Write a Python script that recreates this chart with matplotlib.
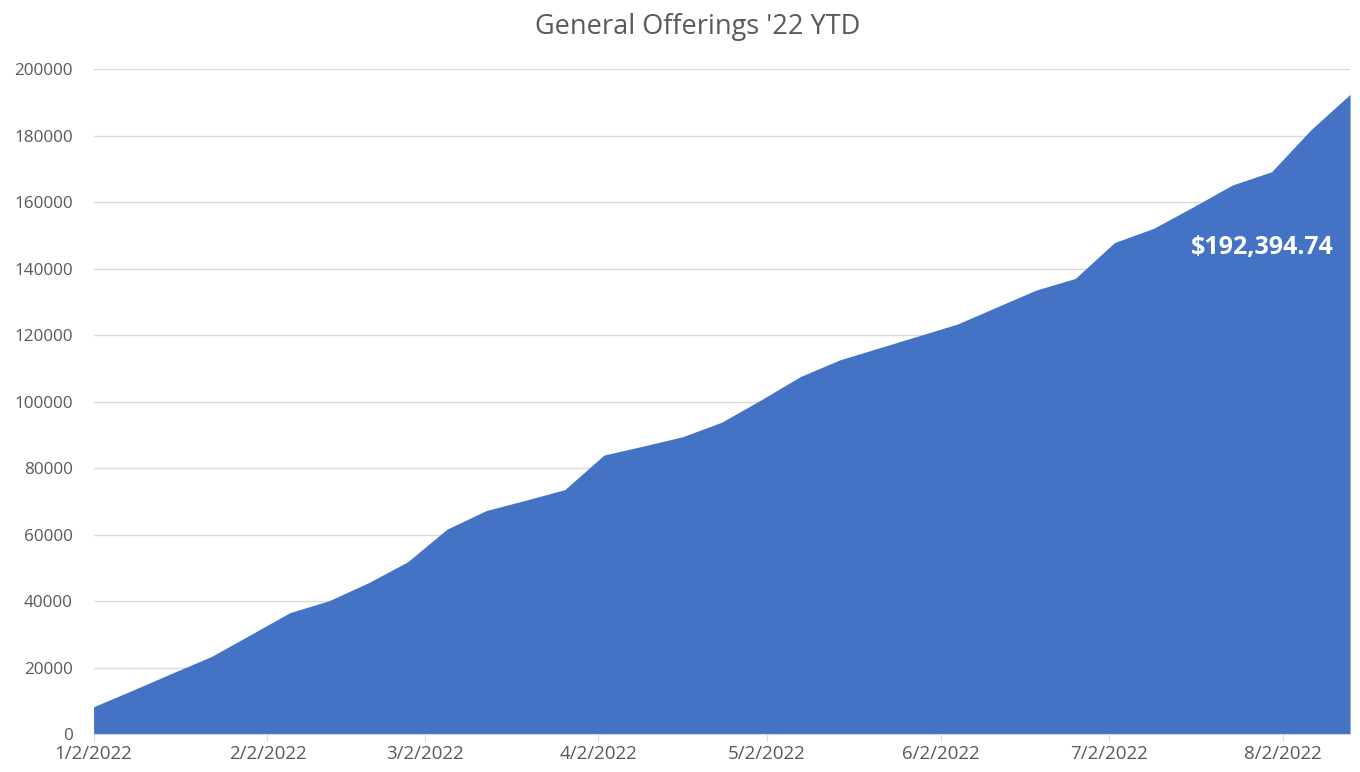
import matplotlib
matplotlib.use('Agg')
import matplotlib.pyplot as plt
import pandas as pd

# Weekly cumulative general offerings, 2022
weeks = pd.date_range('2022-01-02', '2022-08-14', freq='7D')
totals = [8200, 13200, 18300, 23300, 29900, 36500, 40100, 45500, 51800,
          61600, 67200, 70300, 73500, 83900, 86600, 89400, 93800, 100500,
          107500, 112500, 116100, 119700, 123300, 128400, 133500, 137000,
          147800, 152100, 158500, 165100, 169100, 181700, 192394.74]

tick_dates = pd.to_datetime(['2022-01-02', '2022-02-02', '2022-03-02', '2022-04-02',
                             '2022-05-02', '2022-06-02', '2022-07-02', '2022-08-02'])
tick_labels = ['1/2/2022', '2/2/2022', '3/2/2022', '4/2/2022',
               '5/2/2022', '6/2/2022', '7/2/2022', '8/2/2022']
y_ticks = list(range(0, 200001, 20000))

plt.rcParams['font.family'] = ['Open Sans', 'DejaVu Sans']
gray = '#595959'

fig = plt.figure(figsize=(13.6, 7.72), dpi=100)
ax = fig.add_axes([0.0688, 0.0492, 0.9239, 0.8614])

ax.fill_between(weeks, totals, 0, color='#4472C4', linewidth=0, zorder=2)

ax.set_xlim(weeks[0], weeks[-1])
ax.set_ylim(0, 200000)
ax.set_yticks(y_ticks)
ax.set_yticklabels([str(v) for v in y_ticks])
ax.set_xticks(tick_dates)
ax.set_xticklabels(tick_labels)

ax.grid(axis='y', color='#d9d9d9', linewidth=1, zorder=0)
ax.set_axisbelow(True)
for side in ['top', 'right', 'left']:
    ax.spines[side].set_visible(False)
ax.spines['bottom'].set_color('#d9d9d9')
ax.tick_params(axis='y', length=0, pad=15, labelsize=12.3, labelcolor=gray)
ax.tick_params(axis='x', length=5, color='#d9d9d9', pad=3, labelsize=13.5, labelcolor=gray)

ax.annotate('$192,394.74', xy=(weeks[-1], totals[-1]), xytext=(-12, -110),
            textcoords='offset points', ha='right', va='center',
            color='white', fontsize=18, fontweight='bold')

fig.text(0.513, 0.965, "General Offerings '22 YTD", ha='center', va='center',
         fontsize=19.5, color=gray)

plt.savefig('out.png', dpi=100)
